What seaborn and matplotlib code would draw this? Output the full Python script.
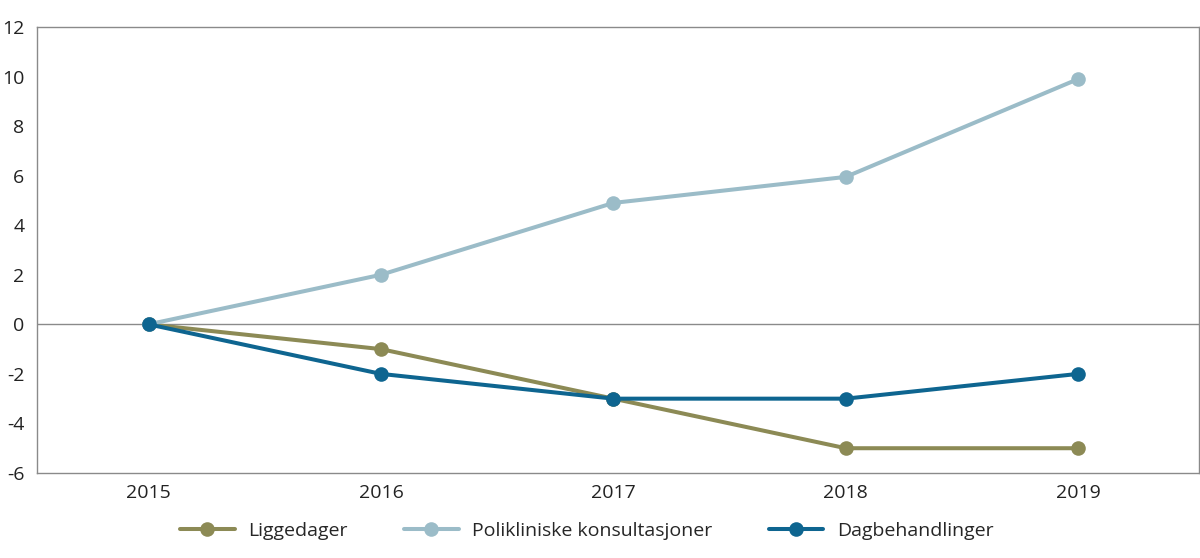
import matplotlib
matplotlib.use("Agg")
import matplotlib.pyplot as plt
import seaborn as sns
import pandas as pd

years = ["2015", "2016", "2017", "2018", "2019"]
liggedager = [0, -1, -3, -5, -5]
polikliniske = [0, 2.0, 4.9, 5.95, 9.9]
dagbehandlinger = [0, -2, -3, -3, -2]
series_names = ["Liggedager", "Polikliniske konsultasjoner", "Dagbehandlinger"]
colors = ["#8C8A55", "#9BBCC8", "#0E6590"]
y_ticks = [-6, -4, -2, 0, 2, 4, 6, 8, 10, 12]

sns.set_theme(style="white")
plt.rcParams["font.family"] = ["Open Sans", "DejaVu Sans"]

rows = []
for name, vals in zip(series_names, [liggedager, polikliniske, dagbehandlinger]):
    for i, (y, v) in enumerate(zip(years, vals)):
        rows.append({"idx": i, "year": y, "value": v, "serie": name})
df = pd.DataFrame(rows)

fig = plt.figure(figsize=(12, 5.58), dpi=100)
ax = fig.add_axes([37/1200, 85/558, (1199-37)/1200, 446/558])

ax.axhline(0, color="#8a8a8a", lw=1.0, zorder=1)

sns.lineplot(data=df, x="idx", y="value", hue="serie", hue_order=series_names,
             palette=colors, marker="o", markersize=10.5, markeredgewidth=0,
             linewidth=2.9, dashes=False, ax=ax, zorder=3, legend=True)

ax.set_xlim(-0.48, 4.52)
ax.set_ylim(-6, 12)
ax.set_yticks(y_ticks)
ax.set_yticklabels([str(t) for t in y_ticks], fontsize=14, color="#222222")
ax.set_xticks(range(len(years)))
ax.set_xticklabels(years, fontsize=14, color="#222222")
ax.tick_params(axis="both", length=0, pad=8)
ax.tick_params(axis="y", pad=9)
ax.set_xlabel("")
ax.set_ylabel("")
for s in ax.spines.values():
    s.set_color("#8a8a8a")
    s.set_linewidth(1.0)

handles, labels = ax.get_legend_handles_labels()
ax.legend_.remove()
fig.legend(handles, labels, loc="center", bbox_to_anchor=(0.489, 0.048), ncol=3,
           frameon=False, fontsize=14, handlelength=2.8, columnspacing=2.9,
           handletextpad=0.7)

fig.savefig("out.png", dpi=100)
